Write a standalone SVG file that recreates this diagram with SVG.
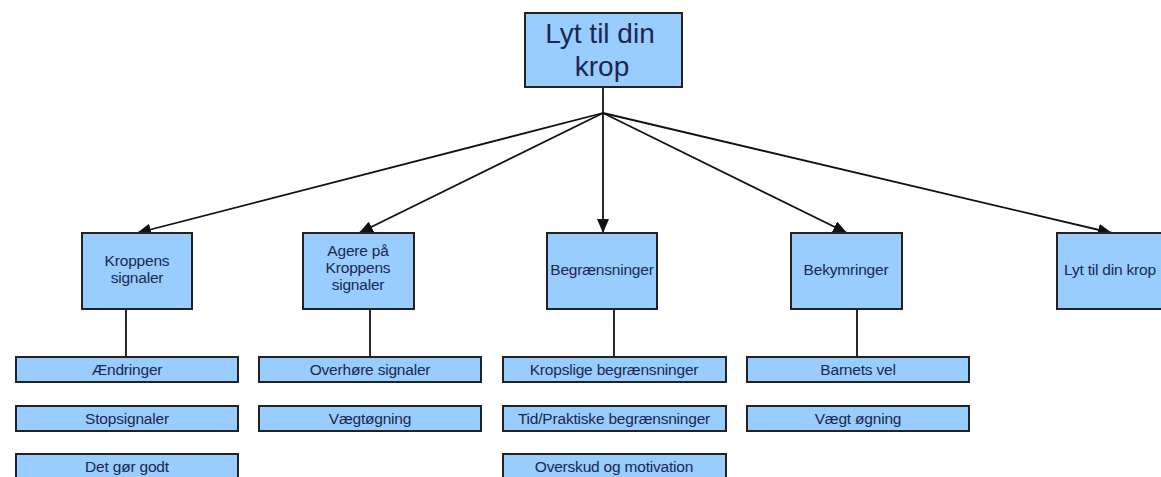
<svg xmlns="http://www.w3.org/2000/svg" width="1161" height="477" viewBox="0 0 1161 477">
<style>
.box{fill:#99ccff;stroke:#222;stroke-width:2}
.t{font-family:"Liberation Sans",Arial,sans-serif;font-size:15.5px;fill:#1a2850;text-anchor:middle;letter-spacing:-0.2px}
.big{font-family:"Liberation Sans",Arial,sans-serif;font-size:28px;fill:#1a2850;text-anchor:middle}
.c{stroke:#111;stroke-width:1.8;fill:none}
</style>
<defs>
<marker id="ah2" markerWidth="14" markerHeight="12" refX="14" refY="6" orient="auto" markerUnits="userSpaceOnUse" viewBox="0 0 14 12">
<path d="M0,0 L14,6 L0,12 Z" fill="#111"/>
</marker>
</defs>
<rect width="1161" height="477" fill="#fff"/>
<g id="connectors">
<line class="c" x1="603" y1="87" x2="603" y2="113"/>
<line class="c" x1="603" y1="113" x2="137" y2="233" marker-end="url(#ah2)"/>
<line class="c" x1="603" y1="113" x2="359" y2="233" marker-end="url(#ah2)"/>
<line class="c" x1="603" y1="113" x2="603" y2="233" marker-end="url(#ah2)"/>
<line class="c" x1="603" y1="113" x2="847" y2="233" marker-end="url(#ah2)"/>
<line class="c" x1="603" y1="113" x2="1112" y2="233" marker-end="url(#ah2)"/>
<line class="c" x1="126" y1="309" x2="126" y2="357"/>
<line class="c" x1="370" y1="309" x2="370" y2="357"/>
<line class="c" x1="614" y1="309" x2="614" y2="357"/>
<line class="c" x1="857" y1="309" x2="857" y2="357"/>
</g>
<g id="root">
<rect class="box" x="525" y="13" width="157" height="74"/>
<text class="big" x="600" y="43">Lyt til din</text>
<text class="big" x="602" y="76">krop</text>
</g>
<g id="kroppens">
<rect class="box" x="82" y="233" width="110" height="76"/>
<text class="t" x="137" y="266">Kroppens</text>
<text class="t" x="137" y="283">signaler</text>
</g>
<g id="agere">
<rect class="box" x="303" y="233" width="111" height="76"/>
<text class="t" x="358" y="256">Agere på</text>
<text class="t" x="358" y="273">Kroppens</text>
<text class="t" x="358" y="290">signaler</text>
</g>
<g id="begraensninger">
<rect class="box" x="547" y="233" width="110" height="76"/>
<text class="t" x="602" y="275">Begrænsninger</text>
</g>
<g id="bekymringer">
<rect class="box" x="791" y="233" width="111" height="76"/>
<text class="t" x="846" y="275">Bekymringer</text>
</g>
<g id="lyt-small">
<rect class="box" x="1057" y="233" width="112" height="76"/>
<text class="t" x="1110" y="275">Lyt til din krop</text>
</g>
<g id="aendringer"><rect class="box" x="16" y="357" width="222" height="25"/><text class="t" x="127" y="375">Ændringer</text></g>
<g id="stopsignaler"><rect class="box" x="16" y="406" width="222" height="25"/><text class="t" x="127" y="424">Stopsignaler</text></g>
<g id="detgoergodt"><rect class="box" x="16" y="454" width="222" height="25"/><text class="t" x="127" y="472">Det gør godt</text></g>
<g id="overhoere"><rect class="box" x="259" y="357" width="222" height="25"/><text class="t" x="370" y="375">Overhøre signaler</text></g>
<g id="vaegtoegning"><rect class="box" x="259" y="406" width="222" height="25"/><text class="t" x="370" y="424">Vægtøgning</text></g>
<g id="kropslige"><rect class="box" x="503" y="357" width="223" height="25"/><text class="t" x="614" y="375">Kropslige begrænsninger</text></g>
<g id="tid"><rect class="box" x="503" y="406" width="223" height="25"/><text class="t" x="614" y="424">Tid/Praktiske begrænsninger</text></g>
<g id="overskud"><rect class="box" x="503" y="454" width="223" height="25"/><text class="t" x="614" y="472">Overskud og motivation</text></g>
<g id="barnetsvel"><rect class="box" x="747" y="357" width="222" height="25"/><text class="t" x="858" y="375">Barnets vel</text></g>
<g id="vaegt-oegning"><rect class="box" x="747" y="406" width="222" height="25"/><text class="t" x="858" y="424">Vægt øgning</text></g>
</svg>
